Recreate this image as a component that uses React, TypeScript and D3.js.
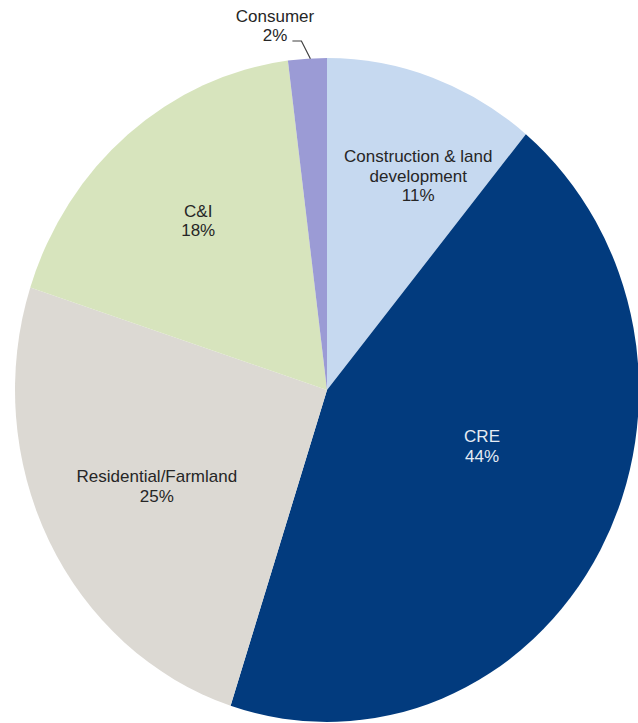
import React from "react";
import * as d3 from "d3";

const categories = ["Construction & land development", "CRE", "Residential/Farmland", "C&I", "Consumer"];
const values = [11, 44, 25, 18, 2];
const labelLines = [["Construction & land", "development"], ["CRE"], ["Residential/Farmland"], ["C&I"], ["Consumer"]];
const percentLabels = ["11%", "44%", "25%", "18%", "2%"];
const colors = ["#c6d9f0", "#023b7e", "#dcd9d3", "#d7e4bd", "#9b9bd5"];
const labelColors = ["#262626", "#e6ecf4", "#262626", "#262626", "#262626"];

const W = 638;
const H = 723;
const CX = 327;
const CY = 390;
const RX = 312;
const RY = 332;
// label placement: [angle offset from slice mid (deg), radius fraction]
const labelPolar: [number, number][] = [
  [4.6, 0.708],
  [-10, 0.525],
  [-0.9, 0.617],
  [0.6, 0.656],
];
const FS = 17;
const LH = 19.5;

export default function App() {
  const pie = d3.pie<number>().sort(null).value((d) => d);
  const arcs = pie(values);
  const arc = d3.arc<d3.PieArcDatum<number>>().innerRadius(0).outerRadius(RY);
  const sx = RX / RY;

  const labels = arcs.map((a, i) => {
    const lines = [...labelLines[i], percentLabels[i]];
    if (i < 4) {
      const mid = (a.startAngle + a.endAngle) / 2 + (labelPolar[i][0] * Math.PI) / 180;
      const r = labelPolar[i][1];
      const x = CX + RX * r * Math.sin(mid);
      const yMid = CY - RY * r * Math.cos(mid);
      const n = lines.length;
      const firstBase = yMid - ((n - 1) * LH) / 2 + FS * 0.35;
      return (
        <text key={i} textAnchor="middle" fontSize={FS} fill={labelColors[i]} fontFamily="'Liberation Sans', Arial, sans-serif">
          {lines.map((l, j) => (
            <tspan key={j} x={x} y={firstBase + j * LH}>{l}</tspan>
          ))}
        </text>
      );
    }
    // outside label with leader line
    const mid = (a.startAngle + a.endAngle) / 2;
    const ex = CX + RX * Math.sin(mid);
    const ey = CY - RY * Math.cos(mid);
    const tx = 275;
    const base2 = 41;
    const path = `M${ex + 3},${ey} L${ex - 6},${base2} L${ex - 15},${base2}`;
    return (
      <g key={i}>
        <path d={path} fill="none" stroke="#404040" strokeWidth={1.2} />
        <text textAnchor="middle" fontSize={FS} fill={labelColors[i]} fontFamily="'Liberation Sans', Arial, sans-serif">
          {lines.map((l, j) => (
            <tspan key={j} x={tx} y={base2 - (lines.length - 1 - j) * LH}>{l}</tspan>
          ))}
        </text>
      </g>
    );
  });

  return (
    <svg width={W} height={H} style={{ position: "absolute", left: 0, top: 0, background: "#fff" }}>
      <g transform={`translate(${CX},${CY}) scale(${sx},1)`}>
        {arcs.map((a, i) => (
          <path key={categories[i]} d={arc(a) || ""} fill={colors[i]} />
        ))}
      </g>
      {labels}
    </svg>
  );
}
